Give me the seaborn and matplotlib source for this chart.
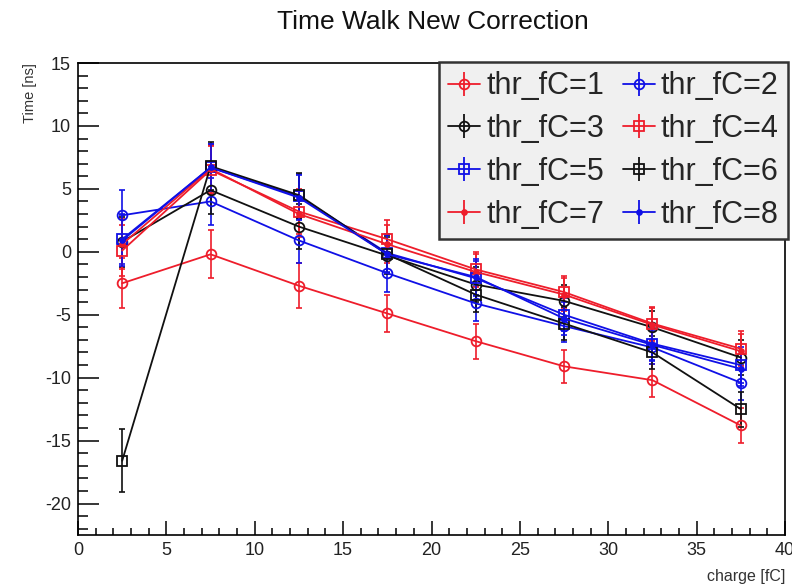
import matplotlib
matplotlib.use("Agg")
import matplotlib.pyplot as plt
from matplotlib.lines import Line2D
from matplotlib.ticker import MultipleLocator
from matplotlib.legend_handler import HandlerTuple
import seaborn as sns
import pandas as pd

sns.set_theme(style="white")
plt.rcParams["font.family"] = ["Liberation Sans", "DejaVu Sans"]
plt.rcParams["axes.unicode_minus"] = False

# charge bins (fC)
charge = [2.5, 7.5, 12.5, 17.5, 22.5, 27.5, 32.5, 37.5]

# mean time per threshold setting (ns)
thr_1 = [-2.5, -0.2, -2.7, -4.9, -7.1, -9.1, -10.2, -13.8]
thr_2 = [2.9, 4.0, 0.9, -1.7, -4.1, -5.9, -7.6, -10.4]
thr_3 = [0.8, 4.9, 2.0, -0.3, -2.6, -3.9, -6.0, -8.4]
thr_4 = [0.1, 6.5, 3.2, 1.0, -1.4, -3.2, -5.7, -7.7]
thr_5 = [1.0, 6.7, 4.4, -0.1, -2.1, -5.0, -7.3, -9.0]
thr_6 = [-16.6, 6.8, 4.5, -0.2, -3.4, -5.7, -8.0, -12.5]
thr_7 = [0.6, 6.6, 3.0, 0.6, -1.6, -3.4, -5.8, -7.9]
thr_8 = [0.9, 6.7, 4.3, -0.2, -2.0, -5.3, -7.4, -9.3]

# uncertainties (ns)
time_err = [2.0, 1.9, 1.8, 1.5, 1.4, 1.3, 1.3, 1.4]
time_err_thr6 = [2.5, 1.9, 1.8, 1.5, 1.4, 1.3, 1.3, 1.4]

labels = [f"thr_fC={i}" for i in range(1, 9)]
series = [thr_1, thr_2, thr_3, thr_4, thr_5, thr_6, thr_7, thr_8]
errors = [time_err] * 5 + [time_err_thr6] + [time_err] * 2

RED, BLUE, BLACK = "#ee1d2b", "#1010e6", "#111111"
colors = [RED, BLUE, BLACK, RED, BLUE, BLACK, RED, BLUE]
markers = ["o", "o", "o", "s", "s", "s", "o", "o"]
msizes = [7, 7, 7, 7, 7, 7, 3.5, 3.5]
filled = [False] * 6 + [True] * 2

df = pd.concat(
    [pd.DataFrame({"charge": charge, "time": s, "err": e, "label": l})
     for s, e, l in zip(series, errors, labels)],
    ignore_index=True,
)

fig = plt.figure(figsize=(7.92, 5.85), dpi=100)
ax = fig.add_axes([78 / 792, 1 - 535 / 585, (785 - 78) / 792, (535 - 63) / 585])

handles = []
for lab, c, m, ms, fl in zip(labels, colors, markers, msizes, filled):
    sub = df[df["label"] == lab]
    ax.errorbar(sub["charge"], sub["time"], yerr=sub["err"], fmt="none",
                ecolor=c, elinewidth=1.2, capsize=2, capthick=1.2, zorder=2)
    sns.lineplot(data=sub, x="charge", y="time", ax=ax, color=c, lw=1.3,
                 marker=m, markersize=ms, markeredgewidth=1.3,
                 markerfacecolor=(c if fl else "none"), markeredgecolor=c,
                 errorbar=None, legend=False, zorder=3)
    handles.append((
        Line2D([], [], color=c, lw=1.3),
        Line2D([], [], color=c, marker="|", markersize=17, markeredgewidth=1.3, ls="none"),
        Line2D([], [], color=c, marker=m, markersize=ms, markeredgewidth=1.3,
               markerfacecolor=(c if fl else "none"), ls="none"),
    ))

ax.set_xlim(0, 40)
ax.set_ylim(-22.5, 15)
ax.xaxis.set_major_locator(MultipleLocator(5))
ax.xaxis.set_minor_locator(MultipleLocator(1))
ax.yaxis.set_major_locator(MultipleLocator(5))
ax.yaxis.set_minor_locator(MultipleLocator(1))
ax.tick_params(axis="both", which="both", direction="in", color="black",
               labelcolor="#222222", labelsize=13, width=1.1)
ax.tick_params(axis="y", which="major", length=15, pad=5)
ax.tick_params(axis="y", which="minor", length=7.5)
ax.tick_params(axis="x", which="major", length=10, pad=5)
ax.tick_params(axis="x", which="minor", length=5)
ax.tick_params(left=True, bottom=True, top=False, right=False, which="both")
for sp in ax.spines.values():
    sp.set_color("black")
    sp.set_linewidth(1.2)
ax.set_xlabel("")
ax.set_ylabel("")

fig.text(30 / 792, 1 - 63 / 585, "Time [ns]", rotation=90, ha="center", va="top",
         fontsize=10.5, color="#333333")
fig.text(785 / 792, 1 - 577 / 585, "charge [fC]", ha="right", va="center",
         fontsize=11.5, color="#333333")
fig.text(433 / 792, 1 - 22 / 585, "Time Walk New Correction", ha="center",
         va="center", fontsize=19, color="#111111")

# two-column legend filled row by row: 1 2 / 3 4 / 5 6 / 7 8
order = [0, 2, 4, 6, 1, 3, 5, 7]
leg = ax.legend([handles[i] for i in order], [labels[i] for i in order],
                ncol=2, loc="upper right",
                bbox_to_anchor=(1.004, 1.002), fontsize=22,
                handler_map={tuple: HandlerTuple(ndivide=1)},
                handlelength=1.05, handletextpad=0.2, columnspacing=0.6,
                labelspacing=0.42, borderpad=0.3, borderaxespad=0,
                frameon=True, fancybox=False, framealpha=1)
leg.get_frame().set_facecolor("#f0f0f0")
leg.get_frame().set_edgecolor("#333333")
leg.get_frame().set_linewidth(1.8)

fig.savefig("out.png", dpi=100)
